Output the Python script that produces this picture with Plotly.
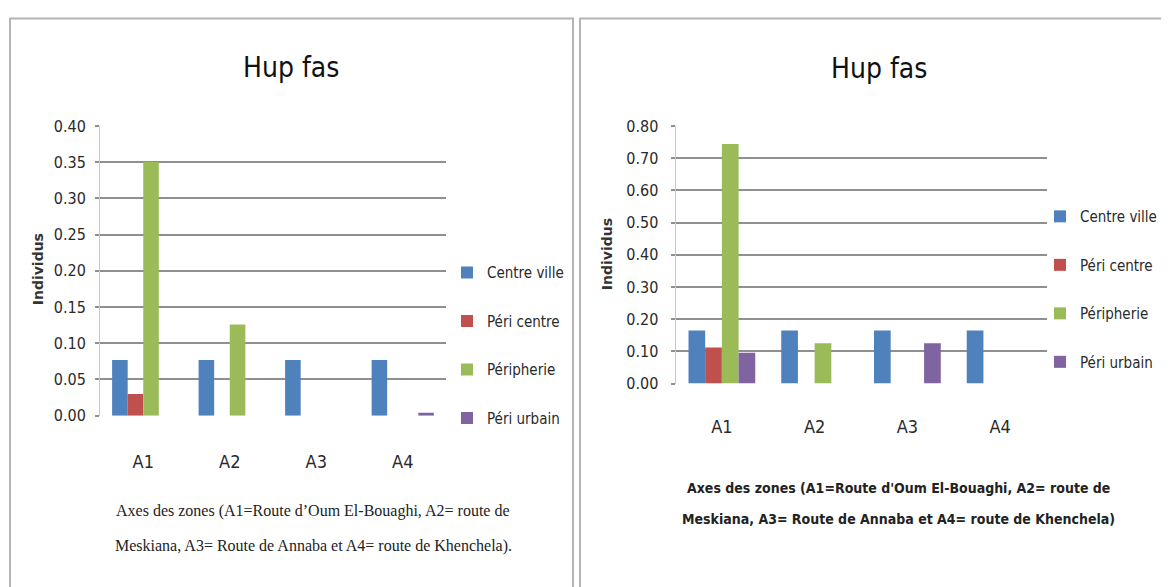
import plotly.graph_objects as go

# ---------------- data ----------------
categories = ["A1", "A2", "A3", "A4"]
series_names = ["Centre ville", "Péri centre", "Péripherie", "Péri urbain"]

left_centre_ville = [0.077, 0.077, 0.077, 0.077]
left_peri_centre = [0.030, 0.0, 0.0, 0.0]
left_peripherie = [0.350, 0.126, 0.0, 0.0]
left_peri_urbain = [0.0, 0.0, 0.0, 0.004]

right_centre_ville = [0.165, 0.165, 0.165, 0.165]
right_peri_centre = [0.112, 0.0, 0.0, 0.0]
right_peripherie = [0.744, 0.125, 0.0, 0.0]
right_peri_urbain = [0.096, 0.0, 0.125, 0.0]

left_ticks = [0.00, 0.05, 0.10, 0.15, 0.20, 0.25, 0.30, 0.35, 0.40]
right_ticks = [0.00, 0.10, 0.20, 0.30, 0.40, 0.50, 0.60, 0.70, 0.80]

chart_title = "Hup fas"
y_title = "Individus"
x_title_lines_left = ["Axes des zones (A1=Route d’Oum El-Bouaghi, A2= route de",
                      "Meskiana, A3= Route de Annaba et A4= route de Khenchela)."]
x_title_lines_right = ["Axes des zones (A1=Route d'Oum El-Bouaghi, A2= route de",
                       "Meskiana, A3= Route de Annaba et A4= route de Khenchela)"]

colors = ["#4F81BD", "#C0504D", "#9BBB59", "#8064A2"]

W, H = 1169, 587
NARROW = "Liberation Sans Narrow, DejaVu Sans Condensed, Liberation Sans, Arial"
GRID = "#8f8f8f"

# mapping from target-picture pixels to paper fractions (compensates page offset)
OX, SX, OY, SY = 8.0, 1.0, 17.4, 0.965


def px(x):
    return ((x - OX) / SX) / W


def py(y):
    return 1 - ((y - OY) / SY) / H


fig = go.Figure()

left_data = [left_centre_ville, left_peri_centre, left_peripherie, left_peri_urbain]
right_data = [right_centre_ville, right_peri_centre, right_peripherie, right_peri_urbain]

for name, vals, col in zip(series_names, left_data, colors):
    fig.add_trace(go.Bar(x=categories, y=vals, name=name, marker_color=col,
                         marker_line_width=0, xaxis="x", yaxis="y",
                         legend="legend", legendgroup="L" + name))
for name, vals, col in zip(series_names, right_data, colors):
    fig.add_trace(go.Bar(x=categories, y=vals, name=name, marker_color=col,
                         marker_line_width=0, xaxis="x2", yaxis="y2",
                         legend="legend2", legendgroup="R" + name))

axis_common = dict(showgrid=False, zeroline=False, showline=False, ticks="",
                   tickfont=dict(family=NARROW, size=18, color="#2a2a2a"))
yaxis_common = dict(showgrid=True, gridcolor=GRID, gridwidth=2, zeroline=False,
                    showline=True, linecolor="#c8c8c8", linewidth=1,
                    ticks="outside", ticklen=4, tickcolor=GRID, tickwidth=2,
                    tickformat=".2f",
                    tickfont=dict(family=NARROW, size=16, color="#2a2a2a"))

fig.update_layout(
    width=W, height=H,
    margin=dict(l=0, r=0, t=0, b=0),
    paper_bgcolor="white", plot_bgcolor="white",
    barmode="group", bargap=0.28, bargroupgap=0,
    xaxis=dict(domain=[px(100), px(446)], anchor="y", ticklabelstandoff=33,
               **axis_common),
    yaxis=dict(domain=[py(415), py(126)], anchor="x", range=[0, 0.40],
               tickvals=left_ticks, ticklabelstandoff=6, **yaxis_common),
    xaxis2=dict(domain=[px(675.5), px(1046.5)], anchor="y2", ticklabelstandoff=30,
                **axis_common),
    yaxis2=dict(domain=[py(383), py(126)], anchor="x2", range=[0, 0.80],
                tickvals=right_ticks, ticklabelstandoff=9, **yaxis_common),
    legend=dict(x=px(447), y=py(256), xanchor="left", yanchor="top",
                traceorder="grouped", tracegroupgap=26,
                font=dict(family=NARROW, size=15, color="#2a2a2a"),
                bgcolor="rgba(0,0,0,0)", itemwidth=30),
    legend2=dict(x=px(1040), y=py(200), xanchor="left", yanchor="top",
                 traceorder="grouped", tracegroupgap=26,
                 font=dict(family=NARROW, size=15, color="#2a2a2a"),
                 bgcolor="rgba(0,0,0,0)", itemwidth=30),
    showlegend=True,
)

# panel borders
fig.add_shape(type="rect", xref="paper", yref="paper",
              x0=px(10), x1=px(573), y0=-0.05, y1=1 - 1.5 / H,
              line=dict(color="#b4b4b4", width=2), layer="below")
fig.add_shape(type="rect", xref="paper", yref="paper",
              x0=px(580), x1=1.05, y0=-0.05, y1=1 - 1.5 / H,
              line=dict(color="#b4b4b4", width=2), layer="below")


def note(text, x, y, font, angle=0):
    fig.add_annotation(text=text, x=px(x), y=py(y), xref="paper", yref="paper",
                       xanchor="center", yanchor="middle", showarrow=False,
                       textangle=angle, font=font)


# titles
title_font = dict(family=NARROW, size=28, color="#111111")
note(chart_title, 291, 68, title_font)
note(chart_title, 879, 69, title_font)

# y titles
ytitle_font = dict(family="DejaVu Sans", size=14, color="#333333")
note("<b>" + y_title + "</b>", 38, 269, ytitle_font, -90)
note("<b>" + y_title + "</b>", 607, 254, ytitle_font, -90)

# x titles (left: serif, right: bold sans)
serif_font = dict(family="Liberation Serif, Times New Roman", size=16, color="#222222")
for line, ypos in zip(x_title_lines_left, [510, 545]):
    note(line, 313, ypos, serif_font)
bold_font = dict(family=NARROW, size=14, color="#222222")
for line, ypos in zip(x_title_lines_right, [487, 518]):
    note("<b>" + line + "</b>", 898, ypos, bold_font)

fig.write_html("out.html")
